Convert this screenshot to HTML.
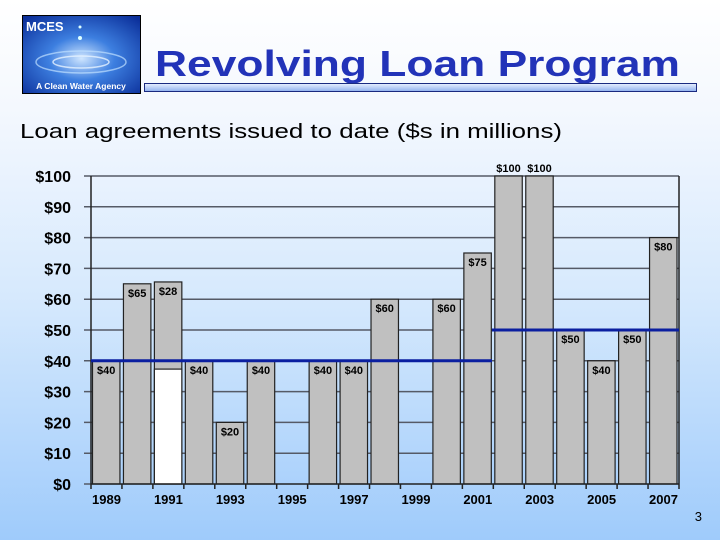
<!DOCTYPE html>
<html><head><meta charset="utf-8"><style>
html,body{margin:0;padding:0}
body{width:720px;height:540px;overflow:hidden;background:linear-gradient(#ffffff 0%,#f4f8fe 20%,#d6e9fd 55%,#9fcbfb 100%);font-family:"Liberation Sans",sans-serif}
</style></head><body>
<svg width="720" height="540" xmlns="http://www.w3.org/2000/svg" style="position:absolute;left:0;top:0" font-family="Liberation Sans, sans-serif">
<defs>
<radialGradient id="lg" cx="0.5" cy="0.55" r="0.7"><stop offset="0" stop-color="#cfe6ff"/><stop offset="0.4" stop-color="#3d7fe0"/><stop offset="1" stop-color="#0b2f9a"/></radialGradient>
<linearGradient id="ub" x1="0" y1="0" x2="0" y2="1"><stop offset="0" stop-color="#e8f0ff"/><stop offset="1" stop-color="#8fb0ee"/></linearGradient>
</defs>
<rect x="22.5" y="15.5" width="118" height="78" fill="url(#lg)" stroke="#000"/>
<ellipse cx="81" cy="62" rx="45" ry="11" fill="none" stroke="#bfe0ff" stroke-width="1.5" opacity="0.7"/>
<ellipse cx="81" cy="62" rx="28" ry="6" fill="none" stroke="#e6f3ff" stroke-width="1.5" opacity="0.8"/>
<circle cx="80" cy="27" r="1.5" fill="#dff"/><circle cx="80" cy="38" r="2" fill="#dff"/>
<text x="26" y="31" font-size="13" font-weight="bold" fill="#fff">MCES</text>
<text x="81" y="89" font-size="8.5" font-weight="bold" fill="#fff" text-anchor="middle">A Clean Water Agency</text>
<text x="155" y="76" font-size="36" font-weight="bold" fill="#2233b8" textLength="525" lengthAdjust="spacingAndGlyphs">Revolving Loan Program</text>
<rect x="144.5" y="83.5" width="552" height="8" fill="url(#ub)" stroke="#1a2a80"/>
<text x="20" y="138" font-size="20" fill="#000" textLength="542" lengthAdjust="spacingAndGlyphs">Loan agreements issued to date ($s in millions)</text>

<g stroke="#555a66" stroke-width="1.5">
<line x1="84" x2="679" y1="453.2" y2="453.2"/><line x1="84" x2="679" y1="422.4" y2="422.4"/>
<line x1="84" x2="679" y1="391.6" y2="391.6"/><line x1="84" x2="679" y1="360.8" y2="360.8"/>
<line x1="84" x2="679" y1="330" y2="330"/><line x1="84" x2="679" y1="299.2" y2="299.2"/>
<line x1="84" x2="679" y1="268.4" y2="268.4"/><line x1="84" x2="679" y1="237.6" y2="237.6"/>
<line x1="84" x2="679" y1="206.8" y2="206.8"/><line x1="84" x2="679" y1="176" y2="176"/>
<line x1="84" x2="91" y1="484" y2="484"/>
</g>
<g font-size="16" font-weight="bold" text-anchor="end">
<text x="71" y="490">$0</text><text x="71" y="459.2">$10</text><text x="71" y="428.4">$20</text>
<text x="71" y="397.6">$30</text><text x="71" y="366.8">$40</text><text x="71" y="336">$50</text>
<text x="71" y="305.2">$60</text><text x="71" y="274.4">$70</text><text x="71" y="243.6">$80</text>
<text x="71" y="212.8">$90</text><text x="71" y="182">$100</text>
</g>

<g fill="#c0c0c0" stroke="#222" stroke-width="1.2">
<rect x="92.5" y="360.8" width="27.45" height="123.2"/>
<rect x="123.45" y="283.8" width="27.45" height="200.2"/>
<rect x="154.39" y="281.95" width="27.45" height="202.05"/>
<rect x="185.34" y="360.8" width="27.45" height="123.2"/>
<rect x="216.29" y="422.4" width="27.45" height="61.6"/>
<rect x="247.24" y="360.8" width="27.45" height="123.2"/>
<rect x="309.13" y="360.8" width="27.45" height="123.2"/>
<rect x="340.08" y="360.8" width="27.45" height="123.2"/>
<rect x="371.02" y="299.2" width="27.45" height="184.8"/>
<rect x="432.92" y="299.2" width="27.45" height="184.8"/>
<rect x="463.86" y="253" width="27.45" height="231"/>
<rect x="494.81" y="176" width="27.45" height="308"/>
<rect x="525.76" y="176" width="27.45" height="308"/>
<rect x="556.71" y="330" width="27.45" height="154"/>
<rect x="587.65" y="360.8" width="27.45" height="123.2"/>
<rect x="618.6" y="330" width="27.45" height="154"/>
<rect x="649.55" y="237.6" width="27.45" height="246.4"/>
<rect x="154.39" y="369.1" width="27.45" height="114.9" fill="#fff"/>
</g>
<g font-size="11" font-weight="bold" text-anchor="middle">
<text x="106.2" y="373.8">$40</text><text x="137.2" y="296.8">$65</text><text x="168.1" y="295">$28</text>
<text x="199.1" y="373.8">$40</text><text x="230" y="435.4">$20</text><text x="261" y="373.8">$40</text>
<text x="322.9" y="373.8">$40</text><text x="353.8" y="373.8">$40</text><text x="384.7" y="312.2">$60</text>
<text x="446.6" y="312.2">$60</text><text x="477.6" y="266">$75</text>
<text x="508.5" y="172">$100</text><text x="539.5" y="172">$100</text>
<text x="570.4" y="343">$50</text><text x="601.4" y="373.8">$40</text><text x="632.3" y="343">$50</text>
<text x="663.3" y="250.6">$80</text>
</g>

<g stroke="#222" stroke-width="1.5">
<line x1="91" x2="91" y1="176" y2="489"/><line x1="679" x2="679" y1="176" y2="489"/>
<line x1="91" x2="679" y1="484" y2="484"/>
<line x1="121.95" x2="121.95" y1="484" y2="489"/><line x1="152.89" x2="152.89" y1="484" y2="489"/>
<line x1="183.84" x2="183.84" y1="484" y2="489"/><line x1="214.79" x2="214.79" y1="484" y2="489"/>
<line x1="245.74" x2="245.74" y1="484" y2="489"/><line x1="276.68" x2="276.68" y1="484" y2="489"/>
<line x1="307.63" x2="307.63" y1="484" y2="489"/><line x1="338.58" x2="338.58" y1="484" y2="489"/>
<line x1="369.53" x2="369.53" y1="484" y2="489"/><line x1="400.47" x2="400.47" y1="484" y2="489"/>
<line x1="431.42" x2="431.42" y1="484" y2="489"/><line x1="462.37" x2="462.37" y1="484" y2="489"/>
<line x1="493.31" x2="493.31" y1="484" y2="489"/><line x1="524.26" x2="524.26" y1="484" y2="489"/>
<line x1="555.21" x2="555.21" y1="484" y2="489"/><line x1="586.16" x2="586.16" y1="484" y2="489"/>
<line x1="617.1" x2="617.1" y1="484" y2="489"/><line x1="648.05" x2="648.05" y1="484" y2="489"/>
</g>
<g stroke="#0b1fa0" stroke-width="3">
<line x1="91" x2="492" y1="360.8" y2="360.8"/>
<line x1="492" x2="679" y1="330" y2="330"/>
</g>
<g font-size="13" font-weight="bold" text-anchor="middle">
<text x="106.5" y="504">1989</text><text x="168.4" y="504">1991</text><text x="230.3" y="504">1993</text>
<text x="292.2" y="504">1995</text><text x="354.1" y="504">1997</text><text x="416" y="504">1999</text>
<text x="477.8" y="504">2001</text><text x="539.7" y="504">2003</text><text x="601.6" y="504">2005</text>
<text x="663.5" y="504">2007</text>
</g>
<text x="702" y="521" font-size="13" fill="#000" text-anchor="end">3</text>
</svg>
</body></html>
